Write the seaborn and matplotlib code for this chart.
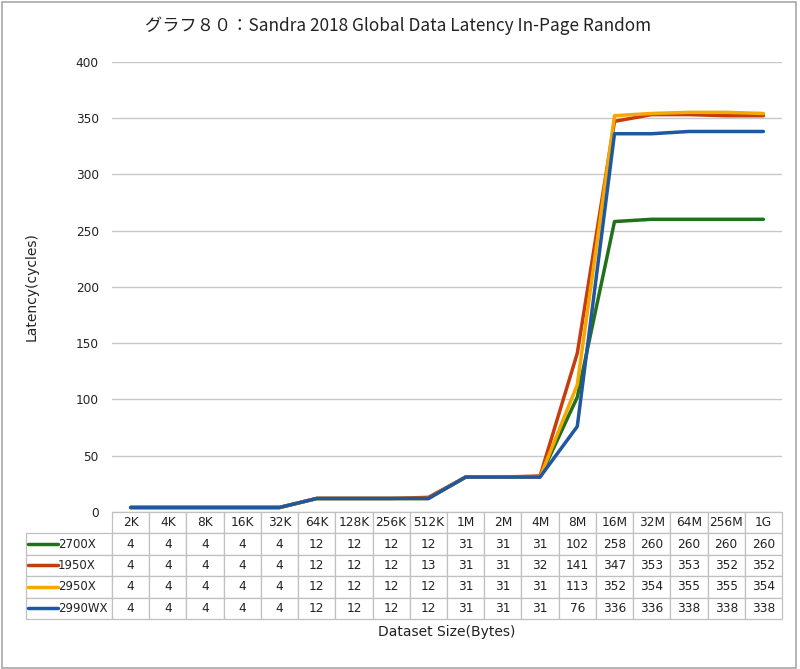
import matplotlib
matplotlib.use("Agg")
import matplotlib.pyplot as plt
import matplotlib.patches as mpatches
import seaborn as sns
import pandas as pd

# データ（表から読み取り）
sizes = ["2K", "4K", "8K", "16K", "32K", "64K", "128K", "256K", "512K",
         "1M", "2M", "4M", "8M", "16M", "32M", "64M", "256M", "1G"]
cpus = ["2700X", "1950X", "2950X", "2990WX"]
lat_2700x = [4, 4, 4, 4, 4, 12, 12, 12, 12, 31, 31, 31, 102, 258, 260, 260, 260, 260]
lat_1950x = [4, 4, 4, 4, 4, 12, 12, 12, 13, 31, 31, 32, 141, 347, 353, 353, 352, 352]
lat_2950x = [4, 4, 4, 4, 4, 12, 12, 12, 12, 31, 31, 31, 113, 352, 354, 355, 355, 354]
lat_2990wx = [4, 4, 4, 4, 4, 12, 12, 12, 12, 31, 31, 31, 76, 336, 336, 338, 338, 338]
colors = ["#23701c", "#c63c0d", "#f4a800", "#1f57a0"]

series = [lat_2700x, lat_1950x, lat_2950x, lat_2990wx]
df = pd.concat([
    pd.DataFrame({"pos": range(len(sizes)), "size": sizes, "latency": vals, "cpu": name})
    for name, vals in zip(cpus, series)
])

sns.set_style("white")
plt.rcParams["font.family"] = ["DejaVu Sans", "Noto Sans CJK JP"]

fig = plt.figure(figsize=(8, 6.69), dpi=100)
ax = fig.add_axes([0.14, 0.2347, 0.8375, 0.6731])

sns.lineplot(data=df, x="pos", y="latency", hue="cpu", hue_order=cpus,
             palette=colors, linewidth=2.5, sort=False, legend=False, ax=ax)

ax.set_xlim(-0.5, len(sizes) - 0.5)
ax.set_ylim(0, 400)
ax.set_yticks(range(0, 401, 50))
ax.set_xticks([])
ax.yaxis.grid(True, color="#c8c8c8", linewidth=1)
ax.set_axisbelow(True)
for s in ax.spines.values():
    s.set_visible(False)
ax.tick_params(axis="y", length=0, pad=9.5, labelsize=8.7, labelcolor="#222222")

ax.set_ylabel("Latency(cycles)", fontsize=10, color="#222222")
ax.yaxis.set_label_coords(-0.109, 0.5)
ax.set_xlabel("Dataset Size(Bytes)", fontsize=10, color="#222222")
ax.xaxis.set_label_coords(0.5, -0.252)

# データテーブル（先頭列は凡例用の空セル）
tab_h = 0.2376
row_w = 0.1284
cell_text = [[""] + [str(v) for v in vals] for vals in series]
tbl = ax.table(cellText=cell_text, colLabels=[""] + sizes,
               colWidths=[row_w] + [1 / len(sizes)] * len(sizes),
               cellLoc="center", bbox=[-row_w, -tab_h, 1 + row_w, tab_h])
tbl.auto_set_font_size(False)
tbl.set_fontsize(8.7)
for (r, c), cell in tbl.get_celld().items():
    cell.set_edgecolor("#c0c0c0")
    cell.set_linewidth(0.9)
    cell.get_text().set_color("#222222")
    if r == 0 and c == 0:
        cell.visible_edges = ""

# 凡例キー
for i, (name, c) in enumerate(zip(cpus, colors)):
    yc = -tab_h * (i + 1.5) / 5
    ax.plot([-0.126, -0.081], [yc, yc], color=c, linewidth=2.5,
            transform=ax.transAxes, clip_on=False)
    ax.text(-0.081, yc, name, transform=ax.transAxes, fontsize=8.5,
            color="#222222", va="center", ha="left")

fig.text(0.4975, 0.961, "グラフ８０：Sandra 2018 Global Data Latency In-Page Random",
         ha="center", va="center", fontsize=12.4,
         family=["Noto Sans CJK JP", "DejaVu Sans"], color="#222222")

fig.patches.append(mpatches.Rectangle((0.002, 0.002), 0.993, 0.995, transform=fig.transFigure,
                                      fill=False, edgecolor="#a8a8a8", linewidth=1.2))

plt.savefig("out.png", dpi=100)
plt.close()
